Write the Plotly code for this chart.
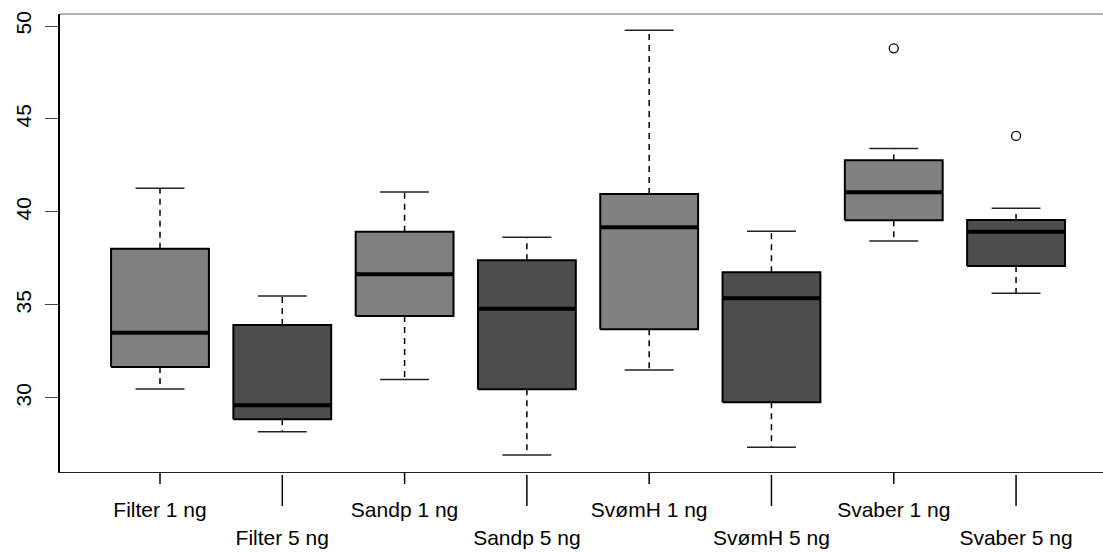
import plotly.graph_objects as go

categories = ["Filter 1 ng", "Filter 5 ng", "Sandp 1 ng", "Sandp 5 ng",
              "SvømH 1 ng", "SvømH 5 ng", "Svaber 1 ng", "Svaber 5 ng"]
positions = [1, 2, 3, 4, 5, 6, 7, 8]
lower_whisker = [30.48, 28.19, 30.99, 26.94, 31.51, 27.35, 38.44, 35.63]
q1 = [31.67, 28.85, 34.41, 30.47, 33.69, 29.77, 39.55, 37.10]
median = [33.51, 29.61, 36.65, 34.80, 39.18, 35.36, 41.06, 38.94]
q3 = [38.03, 33.92, 38.94, 37.40, 40.97, 36.76, 42.78, 39.57]
upper_whisker = [41.27, 35.48, 41.08, 38.64, 49.77, 38.96, 43.42, 40.20]
outlier_pos = [7, 8]
outlier_val = [48.8, 44.09]
fills = ["#808080", "#4d4d4d", "#808080", "#4d4d4d",
         "#808080", "#4d4d4d", "#808080", "#4d4d4d"]
y_ticks = [30, 35, 40, 45, 50]

HALF = 0.4
CAP = 0.2

fig = go.Figure()

for i, c in enumerate(positions):
    # whiskers (dashed)
    fig.add_trace(go.Scatter(
        x=[c, c, None, c, c],
        y=[q3[i], upper_whisker[i], None, q1[i], lower_whisker[i]],
        mode="lines", line=dict(color="black", width=1.5, dash="6px,5px"),
        hoverinfo="skip", showlegend=False))
    # caps
    fig.add_trace(go.Scatter(
        x=[c - CAP, c + CAP, None, c - CAP, c + CAP],
        y=[upper_whisker[i], upper_whisker[i], None, lower_whisker[i], lower_whisker[i]],
        mode="lines", line=dict(color="#222222", width=1.5),
        hoverinfo="skip", showlegend=False))
    # box
    fig.add_trace(go.Scatter(
        x=[c - HALF, c + HALF, c + HALF, c - HALF, c - HALF],
        y=[q1[i], q1[i], q3[i], q3[i], q1[i]],
        mode="lines", fill="toself", fillcolor=fills[i],
        line=dict(color="black", width=2),
        hoverinfo="skip", showlegend=False))
    # median
    fig.add_trace(go.Scatter(
        x=[c - HALF, c + HALF], y=[median[i], median[i]],
        mode="lines", line=dict(color="black", width=4),
        hoverinfo="skip", showlegend=False))

fig.add_trace(go.Scatter(
    x=outlier_pos, y=outlier_val, mode="markers",
    marker=dict(symbol="circle-open", size=9, color="black", line=dict(width=1.3)),
    hoverinfo="skip", showlegend=False))

# staggered x tick marks
shapes = []
for i, c in enumerate(positions):
    if i % 2 == 0:
        y0, y1 = 0, -12
    else:
        y0, y1 = -3, -34
    shapes.append(dict(type="line", xref="x", yref="paper", x0=c, x1=c,
                       y0=y0 / 458, y1=y1 / 458,
                       line=dict(color="black", width=1.5)))
shapes.append(dict(type="line", xref="paper", yref="paper", x0=0, x1=1, y0=1, y1=1,
                   line=dict(color="#999999", width=1.5)))

ticktext = [t if i % 2 == 0 else "<br>" + t for i, t in enumerate(categories)]

fig.update_layout(
    width=1103, height=552,
    margin=dict(l=60, r=0, t=14, b=80),
    paper_bgcolor="white", plot_bgcolor="white",
    font=dict(family="Liberation Sans, Arial, sans-serif", color="black"),
    shapes=shapes,
    xaxis=dict(range=[0.1823, 8.711], tickvals=positions, ticktext=ticktext,
               ticks="", showgrid=False, zeroline=False,
               showline=True, linecolor="#222222", linewidth=1.2,
               tickfont=dict(size=21), ticklabelstandoff=19),
    yaxis=dict(range=[26.02, 50.645], tickvals=y_ticks, ticks="outside",
               ticklen=13, tickwidth=1.2, tickcolor="#444444",
               showgrid=False, zeroline=False, showline=True,
               linecolor="black", linewidth=2, tickangle=-90,
               tickfont=dict(size=21), ticklabelstandoff=6),
)

fig.write_html("out.html")
